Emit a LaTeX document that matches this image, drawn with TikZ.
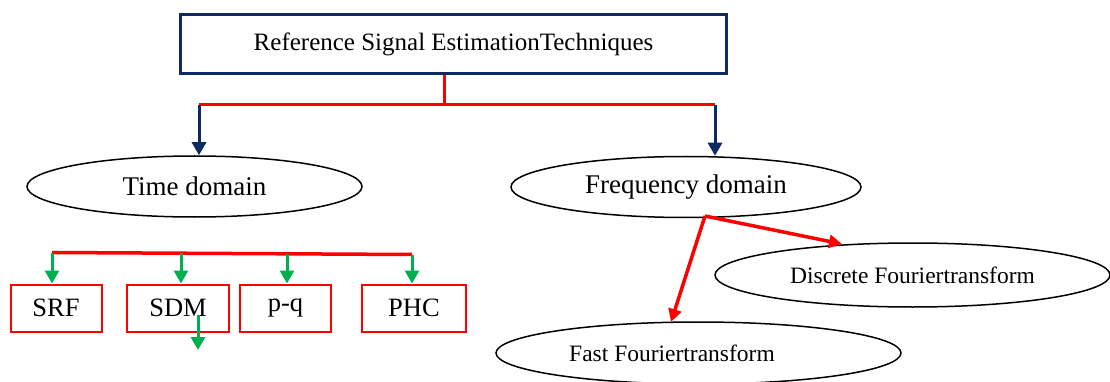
\documentclass[tikz,border=0pt]{standalone}
\usepackage{fontspec}
\setmainfont{Liberation Serif}
\usetikzlibrary{shapes.geometric,arrows.meta}
\definecolor{navy}{HTML}{0E2A62}
\definecolor{ogreen}{HTML}{00B050}
\begin{document}
\begin{tikzpicture}[x=1pt,y=-1pt,
  ell/.style={draw=black, line width=1.5pt, ellipse, inner sep=0pt},
  tbox/.style={draw=red, line width=2pt, rectangle, inner sep=0pt, minimum height=47pt, font=\fontsize{26.5}{30}\selectfont},
  navyarr/.style={draw=navy, line width=3pt, -{Triangle[length=13pt,width=14pt]}},
  grarr/.style={draw=ogreen, line width=3pt, -{Triangle[length=13pt,width=14pt]}},
  redln/.style={draw=red, line width=3pt},
  redarr/.style={draw=red, line width=3.5pt, -{Triangle[length=13pt,width=13pt]}},
  bigfont/.style={font=\fontsize{27}{30}\selectfont},
  midfont/.style={font=\fontsize{23.5}{26}\selectfont}]
\useasboundingbox (0,0) rectangle (1110,382);

% top box
\node[draw=navy, line width=3pt, minimum width=546pt, minimum height=59pt, inner sep=0pt,
      font=\fontsize{25}{28}\selectfont] (top) at (453.5,44) {Reference Signal EstimationTechniques};

% domain ellipses
\node[ell, bigfont, minimum width=335pt, minimum height=61pt] (time) at (194.5,186.5) {Time domain};
\node[ell, bigfont, minimum width=350pt, minimum height=61pt] (freq) at (686,187) {Frequency domain};

% frequency children
\node[ell, midfont, minimum width=395pt, minimum height=64pt] (dft) at (912.5,275) {Discrete Fouriertransform};
\node[ell, minimum width=405pt, minimum height=62pt] (fftell) at (698.5,353) {};
\node[midfont, inner sep=0pt] (fft) at (672,353) {Fast Fouriertransform};

% time children
\node[tbox, minimum width=91pt] (srf) at (56,308) {SRF};
\node[tbox, minimum width=102pt] (sdm) at (178,308) {SDM};
\node[tbox, minimum width=91pt] (pq) at (285.5,308) {p-q};
\node[tbox, minimum width=104pt] (phc) at (414,308) {PHC};

% top connectors
\coordinate (jt) at (444,105);
\coordinate (jL) at (199,105);
\coordinate (jR) at (715,105);
\draw[redln] (top.south -| jt) -- (jt);
\draw[redln] (jL) -- (jR);
\draw[navyarr] (jL) -- (jL |- time.north);
\draw[navyarr] (jR) -- (jR |- freq.north);

% time row bar and arrows
\coordinate (g1) at (52,252.5);
\coordinate (g2) at (181,253.2);
\coordinate (g3) at (287,253.8);
\coordinate (g4) at (412,254.5);
\draw[redln, line width=3.5pt] (g1) -- (g4);
\draw[grarr] (g1) -- (g1 |- srf.north);
\draw[grarr] (g2) -- (g2 |- sdm.north);
\draw[grarr] (g3) -- (g3 |- pq.north);
\draw[grarr] (g4) -- (g4 |- phc.north);

% arrow out of SDM
\coordinate (s1) at (198,315);
\coordinate (s2) at (198,350);
\draw[grarr] (s1) -- (s2);

% frequency arrows
\coordinate (fa) at (705,216);
\coordinate (dtip) at (842,244);
\coordinate (ftip) at (671,322);
\draw[redarr] (fa) -- (dtip);
\draw[redarr] (fa) -- (ftip);
\end{tikzpicture}
\end{document}
